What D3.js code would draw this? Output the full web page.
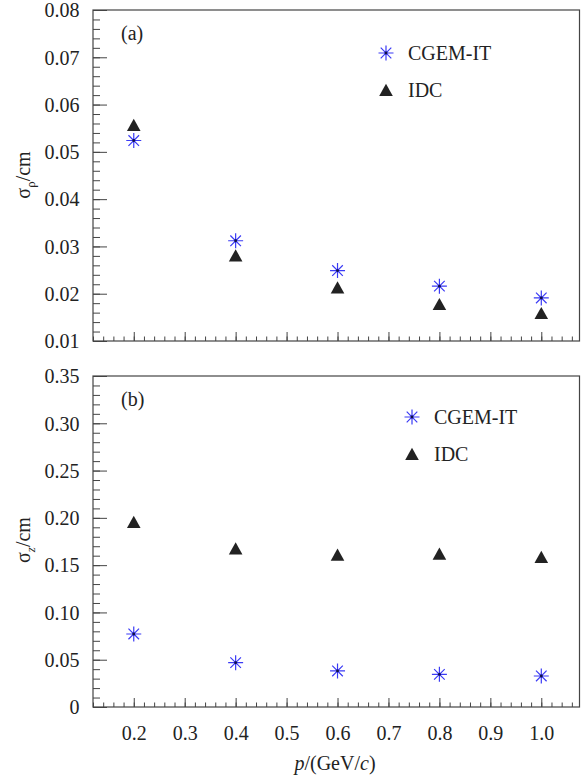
<!DOCTYPE html>
<html>
<head>
<meta charset="utf-8">
<script src="https://cdn.jsdelivr.net/npm/d3@7"></script>
<style>
  body { margin: 0; background: #fff; }
  svg text { font-family: "Liberation Serif", "Times New Roman", serif; fill: #222; }
</style>
</head>
<body>
<div id="chart"></div>
<script>
// momentum points, GeV/c
const momenta = [0.2, 0.4, 0.6, 0.8, 1.0];

// (a) sigma_rho in cm
const rhoCgem = [0.0524, 0.0312, 0.0249, 0.0216, 0.0191];
const rhoIdc = [0.0557, 0.0281, 0.0213, 0.0178, 0.0159];

// (b) sigma_z in cm
const zCgem = [0.0772, 0.0469, 0.0381, 0.0345, 0.0328];
const zIdc = [0.1956, 0.1676, 0.1610, 0.1620, 0.1586];

const xTicks = [0.2, 0.3, 0.4, 0.5, 0.6, 0.7, 0.8, 0.9, 1.0];
const xTickLabels = ["0.2", "0.3", "0.4", "0.5", "0.6", "0.7", "0.8", "0.9", "1.0"];
const yTicksA = [0.01, 0.02, 0.03, 0.04, 0.05, 0.06, 0.07, 0.08];
const yTickLabelsA = ["0.01", "0.02", "0.03", "0.04", "0.05", "0.06", "0.07", "0.08"];
const yTicksB = [0, 0.05, 0.10, 0.15, 0.20, 0.25, 0.30, 0.35];
const yTickLabelsB = ["0", "0.05", "0.10", "0.15", "0.20", "0.25", "0.30", "0.35"];
const seriesNames = ["CGEM-IT", "IDC"];

const W = 583, H = 783;
const left = 93, right = 579.5;
const blue = "#3a3af5";
const dark = "#222";
const serif = "'Liberation Serif', 'Times New Roman', serif";

const svg = d3.select("#chart").append("svg")
    .attr("width", W)
    .attr("height", H);

const x = d3.scaleLinear().domain([0.12, 1.075]).range([left, right]);

const starPath = "M-7.5,0L7.5,0M0,-7.5L0,7.5M-5.3,-5.3L5.3,5.3M-5.3,5.3L5.3,-5.3";
const triPath = "M0,-6.2L6.8,6L-6.8,6Z";

function drawStar(g, cx, cy) {
    g.append("path").attr("d", starPath)
        .attr("transform", `translate(${cx},${cy})`)
        .attr("stroke", blue).attr("stroke-width", 1.2).attr("fill", "none");
    g.append("circle").attr("cx", cx).attr("cy", cy).attr("r", 1.4).attr("fill", "#111144");
}

function drawTri(g, cx, cy) {
    g.append("path").attr("d", triPath)
        .attr("transform", `translate(${cx},${cy})`)
        .attr("fill", dark);
}

function minorTicks(lo, hi, step) {
    const out = [];
    const n = Math.round((hi - lo) / step);
    for (let i = 0; i <= n; i++) out.push(+(lo + i * step).toFixed(4));
    return out;
}

function panel(opt) {
    const g = svg.append("g");
    const y = d3.scaleLinear().domain(opt.yDomain).range([opt.bottom, opt.top]);

    // minor ticks
    g.append("g")
        .attr("transform", `translate(${left},0)`)
        .call(d3.axisLeft(y).tickValues(minorTicks(opt.yDomain[0], opt.yDomain[1], opt.yMinor)).tickSize(-7).tickFormat(""))
        .call(a => a.select(".domain").remove());
    g.append("g")
        .attr("transform", `translate(0,${opt.bottom})`)
        .call(d3.axisBottom(x).tickValues(minorTicks(0.12, 1.06, 0.02)).tickSize(-4.5).tickFormat(""))
        .call(a => a.select(".domain").remove());

    // major ticks
    const ya = g.append("g")
        .attr("transform", `translate(${left},0)`)
        .call(d3.axisLeft(y).tickValues(opt.yTicks).tickSize(-14).tickPadding(13.5)
            .tickFormat((d, i) => opt.yLabels[i]));
    ya.attr("font-family", serif).attr("font-size", 20);
    ya.select(".domain").remove();
    ya.selectAll("text").attr("font-size", 20).attr("font-family", serif).attr("dy", "0.34em");

    const xa = g.append("g")
        .attr("transform", `translate(0,${opt.bottom})`)
        .call(d3.axisBottom(x).tickValues(xTicks).tickSize(-9)
            .tickFormat((d, i) => opt.showX ? xTickLabels[i] : ""));
    xa.attr("font-family", serif).attr("font-size", 20);
    xa.select(".domain").remove();
    xa.selectAll("text").attr("font-size", 20).attr("font-family", serif).attr("y", 26).attr("dy", "0.34em");

    g.selectAll(".tick line").attr("stroke", "#444").attr("stroke-width", 1);

    // frame
    g.append("rect")
        .attr("x", left).attr("y", opt.top)
        .attr("width", right - left).attr("height", opt.bottom - opt.top)
        .attr("fill", "none").attr("stroke", "#444").attr("stroke-width", 1.2);

    // data
    momenta.forEach((p, i) => {
        drawTri(g, x(p), y(opt.idc[i]));
        drawStar(g, x(p), y(opt.cgem[i]));
    });

    // panel letter
    g.append("text").attr("x", 121).attr("y", opt.top + 23 + 6.5)
        .attr("font-size", 20).text(opt.letter);

    // legend
    drawStar(g, opt.legX, opt.legY);
    g.append("text").attr("x", opt.legX + 22).attr("y", opt.legY).attr("dy", "0.34em")
        .attr("font-size", 20).text(seriesNames[0]);
    drawTri(g, opt.legX, opt.legY + 37);
    g.append("text").attr("x", opt.legX + 22).attr("y", opt.legY + 37).attr("dy", "0.34em")
        .attr("font-size", 20).text(seriesNames[1]);

    // y title
    const t = g.append("text")
        .attr("transform", `translate(30,${opt.titleY}) rotate(-90)`)
        .attr("text-anchor", "middle")
        .attr("font-size", 20);
    t.append("tspan").text("σ");
    const sub = t.append("tspan").attr("font-size", 13).attr("dy", 5).text(opt.sub);
    if (opt.subItalic) sub.attr("font-style", "italic");
    t.append("tspan").attr("dy", -5).text("/cm");
}

panel({
    top: 10, bottom: 341, yDomain: [0.01, 0.08], yMinor: 0.002,
    yTicks: yTicksA, yLabels: yTickLabelsA, showX: false,
    cgem: rhoCgem, idc: rhoIdc, letter: "(a)",
    legX: 386, legY: 53, titleY: 175, sub: "ρ", subItalic: false
});

panel({
    top: 376, bottom: 707, yDomain: [0, 0.35], yMinor: 0.01,
    yTicks: yTicksB, yLabels: yTickLabelsB, showX: true,
    cgem: zCgem, idc: zIdc, letter: "(b)",
    legX: 412, legY: 417, titleY: 540, sub: "z", subItalic: true
});

// x title
const xt = svg.append("text")
    .attr("x", 335).attr("y", 763).attr("dy", "0.34em")
    .attr("text-anchor", "middle").attr("font-size", 20);
xt.append("tspan").attr("font-style", "italic").text("p");
xt.append("tspan").text("/(GeV/");
xt.append("tspan").attr("font-style", "italic").text("c");
xt.append("tspan").text(")");
</script>
</body>
</html>
